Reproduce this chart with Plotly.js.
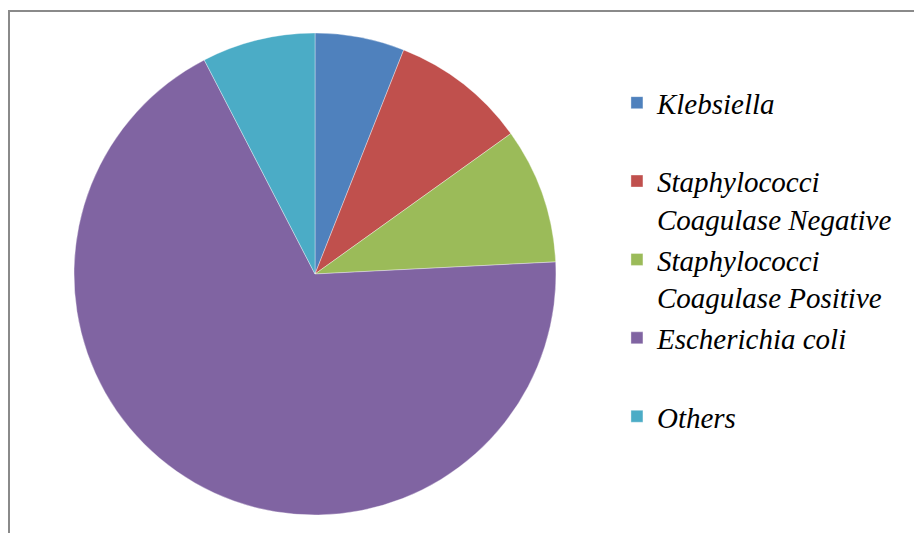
<!DOCTYPE html>
<html>
<head>
<meta charset="utf-8">
<script src="https://cdn.plot.ly/plotly-3.0.1.min.js"></script>
<style>
html,body{margin:0;padding:0;background:#fff;}
#chart{width:914px;height:533px;}
#frame{position:absolute;left:8px;top:10px;width:1000px;height:600px;border-left:2px solid #8a8a8a;border-top:2px solid #8a8a8a;pointer-events:none;}
.legendtext{font-family:"Liberation Serif", "Times New Roman", serif !important;}
</style>
</head>
<body>
<div id="chart"></div>
<div id="frame"></div>
<script>
const labels = ["Klebsiella", "Staphylococci Coagulase Negative", "Staphylococci Coagulase Positive", "Escherichia coli", "Others"];
const legendNames = ["Klebsiella<br>&nbsp;", "Staphylococci<br>Coagulase Negative", "Staphylococci<br>Coagulase Positive", "Escherichia coli<br>&nbsp;", "Others<br>&nbsp;"];
const values = [6.0, 9.1, 9.1, 68.2, 7.6];
const colors = ["#4F81BD", "#C0504D", "#9BBB59", "#8064A2", "#4BACC6"];

const W = 914, H = 533;
const cx = 315, cy = 274, r = 241;

const trace = {
  type: "pie", labels: legendNames, values: values, sort: false,
  direction: "clockwise", rotation: 0, textinfo: "none",
  marker: {colors: colors, line: {color: "rgba(255,255,255,0.6)", width: 0.6}},
  domain: {x: [(cx - r) / W, (cx + r) / W], y: [(H - cy - r) / H, (H - cy + r) / H]}
};

const layout = {
  width: W, height: H,
  margin: {l: 0, r: 0, t: 0, b: 0, autoexpand: false},
  legend: {
    x: 0.675, xanchor: "left", y: 0.855, yanchor: "top", valign: "top",
    font: {family: "Liberation Serif", size: 29, color: "#000", style: "italic"},
    bgcolor: "rgba(0,0,0,0)"
  }
};

Plotly.newPlot("chart", [trace], layout, {displayModeBar: false, staticPlot: true}).then(gd => {
  document.querySelectorAll(".legendtext").forEach(t => {
    t.style.fontFamily = '"Liberation Serif", "Times New Roman", serif';
    t.style.fontStyle = "italic";
  });
  const note = document.createElement("div");
  note.style.cssText = "position:absolute;left:0;top:0;width:0;height:0;overflow:hidden;";
  document.body.appendChild(note);
});
</script>
</body>
</html>
